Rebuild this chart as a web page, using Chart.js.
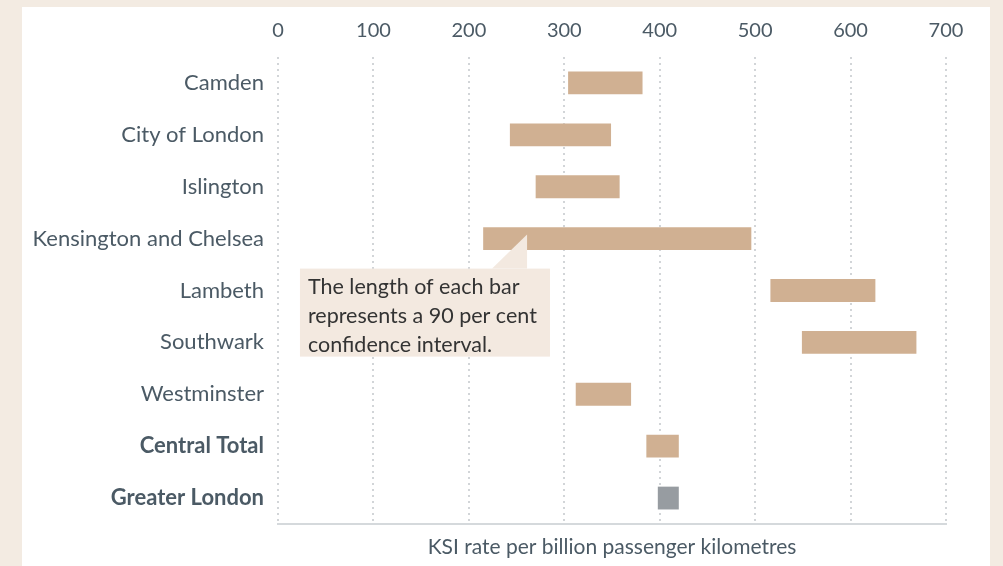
<!DOCTYPE html>
<html lang="en">
<head>
<meta charset="UTF-8">
<title>KSI rate per billion passenger kilometres</title>
<script src="https://cdn.jsdelivr.net/npm/chart.js@4.4.4/dist/chart.umd.min.js"></script>
</head>
<body style="margin:0; background:#f3ebe2; width:1003px; height:566px; overflow:hidden; font-family: Lato, sans-serif;">
<div style="position:absolute; left:22px; top:7px; width:968px; height:570px; background:#ffffff;"></div>
<div style="position:absolute; left:0; top:0; width:1003px; height:566px;">
    <canvas id="ksiChart"></canvas>
</div>
<script>
// Boroughs and the 90% confidence interval of each KSI rate
const boroughs = ['Camden', 'City of London', 'Islington', 'Kensington and Chelsea', 'Lambeth',
                  'Southwark', 'Westminster', 'Central Total', 'Greater London'];
const lowValues  = [304, 243, 270, 215, 516, 549, 312, 386, 398];
const highValues = [382, 349, 358, 496, 626, 669, 370, 420, 420];
const xTicks = [0, 100, 200, 300, 400, 500, 600, 700];

const tan = '#d0b092';
const grey = '#979ca1';
const textColor = '#4b5a65';

// note box with a pointer to the Kensington and Chelsea bar
const notePlugin = {
    id: 'note',
    afterDraw(chart) {
        const ctx = chart.ctx;
        const x = chart.scales.x;
        const y = chart.scales.y;
        const left = x.getPixelForValue(23);
        const right = x.getPixelForValue(285);
        const top = y.getPixelForValue(3) + 30;
        const bottom = top + 88;
        const tipX = x.getPixelForValue(261);
        const tipY = y.getPixelForValue(3) - 4;
        ctx.save();
        ctx.fillStyle = '#f3e9e0';
        ctx.fillRect(left, top, right - left, bottom - top);
        ctx.beginPath();
        ctx.moveTo(tipX - 35, top);
        ctx.lineTo(tipX, tipY);
        ctx.lineTo(tipX, top);
        ctx.closePath();
        ctx.fill();
        ctx.fillStyle = '#333333';
        ctx.font = '21.5px Lato, sans-serif';
        ctx.textBaseline = 'middle';
        const lines = ['The length of each bar', 'represents a 90 per cent', 'confidence interval.'];
        lines.forEach((t, i) => ctx.fillText(t, left + 8, top + 18 + i * 29));
        ctx.restore();
    }
};

const ctx = document.getElementById('ksiChart').getContext('2d');
new Chart(ctx, {
    type: 'bar',
    data: {
        labels: boroughs,
        datasets: [{
            data: boroughs.map((b, i) => [lowValues[i], highValues[i]]),
            backgroundColor: boroughs.map((b, i) => i === boroughs.length - 1 ? grey : tan),
            borderWidth: 0,
            categoryPercentage: 1,
            barPercentage: 0.44
        }]
    },
    options: {
        indexAxis: 'y',
        responsive: true,
        maintainAspectRatio: false,
        animation: false,
        layout: { padding: { left: 0, right: 57, top: 0, bottom: 0 } },
        plugins: {
            legend: { display: false },
            tooltip: { enabled: false }
        },
        scales: {
            x: {
                position: 'top',
                min: 0,
                max: 700,
                z: 1,
                afterBuildTicks: s => { s.ticks = xTicks.map(v => ({ value: v })); },
                afterFit: s => { s.height = 57; },
                ticks: { color: textColor, font: { family: 'Lato', size: 20 }, padding: 14 },
                grid: { color: '#d2d5d8', lineWidth: 2, drawTicks: false },
                border: { display: false, dash: [2, 4] }
            },
            x2: {
                position: 'bottom',
                axis: 'x',
                min: 0,
                max: 700,
                afterFit: s => { s.height = 42; },
                ticks: { display: false },
                grid: { display: false, drawTicks: false },
                border: { display: true, color: '#d5d9dc', width: 2 },
                title: {
                    display: true,
                    text: 'KSI rate per billion passenger kilometres',
                    color: textColor,
                    font: { family: 'Lato', size: 21 },
                    padding: { top: 6, bottom: 6 }
                }
            },
            y: {
                afterFit: s => { s.width = 278; },
                ticks: {
                    color: textColor,
                    padding: 6,
                    font: c => ({ family: 'Lato', size: 22, weight: c.index >= 7 ? 'bold' : 'normal' })
                },
                grid: { display: false },
                border: { display: false }
            }
        }
    },
    plugins: [notePlugin]
});
</script>
</body>
</html>
